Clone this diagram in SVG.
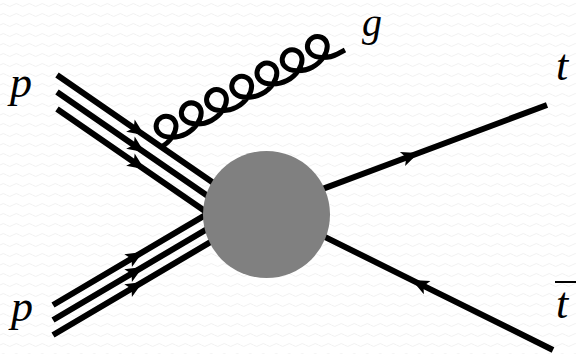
<svg xmlns="http://www.w3.org/2000/svg" width="576" height="354" viewBox="0 0 576 354">
  <defs>
    <pattern id="bg" width="13" height="10" patternUnits="userSpaceOnUse">
      <path d="M0,5 Q3.25,2 6.5,5 T13,5" fill="none" stroke="#f1f1f1" stroke-width="1"/>
    </pattern>
    <marker id="arr" markerUnits="userSpaceOnUse" markerWidth="24" markerHeight="24" viewBox="-12 -12 24 24" refX="0" refY="0" orient="auto">
      <path d="M9,0 L-8,-7.5 L-4,0 L-8,7.5 Z" fill="#000"/>
    </marker>
  </defs>
  <style>
    .f { fill: none; stroke: #000; stroke-width: 6; stroke-linecap: butt; marker-mid: url(#arr); }
    .glu { fill: none; stroke: #000; stroke-width: 5; stroke-linejoin: round; }
    .lbl { font-family: "Liberation Serif", "Times New Roman", serif; font-style: italic; fill: #000; }
  </style>
  <rect width="576" height="354" fill="#fff"/>
  <rect width="576" height="354" fill="url(#bg)"/>

  <g id="connectors">
    <path class="f" d="M57,75 L137,130.2 L215,184"/>
    <path class="f" d="M57,92 L137,147.2 L215,201"/>
    <path class="f" d="M57,109 L137,164.2 L215,218"/>
    <path class="f" d="M53,305 L135,256.6 L215,209.4"/>
    <path class="f" d="M53,320 L135,271.6 L215,224.4"/>
    <path class="f" d="M53,335 L135,286.6 L215,239.4"/>
    <path class="f" d="M300,197.4 L410,156.2 L547,105"/>
    <path class="f" d="M553,350 L420,284.1 L300,224.6"/>
    <path id="gluon" class="glu" transform="translate(161,147) rotate(-27.8)" d="M0,0
      c 11.02,0 21.25,-6.19 23.625,-13 c 2.375,-6.81 -3.111,-13 -9.375,-13 c -6.264,0 -11.75,6.19 -9.375,13 c 2.375,6.81 12.605,13 23.625,13
      c 11.02,0 21.25,-6.19 23.625,-13 c 2.375,-6.81 -3.111,-13 -9.375,-13 c -6.264,0 -11.75,6.19 -9.375,13 c 2.375,6.81 12.605,13 23.625,13
      c 11.02,0 21.25,-6.19 23.625,-13 c 2.375,-6.81 -3.111,-13 -9.375,-13 c -6.264,0 -11.75,6.19 -9.375,13 c 2.375,6.81 12.605,13 23.625,13
      c 11.02,0 21.25,-6.19 23.625,-13 c 2.375,-6.81 -3.111,-13 -9.375,-13 c -6.264,0 -11.75,6.19 -9.375,13 c 2.375,6.81 12.605,13 23.625,13
      c 11.02,0 21.25,-6.19 23.625,-13 c 2.375,-6.81 -3.111,-13 -9.375,-13 c -6.264,0 -11.75,6.19 -9.375,13 c 2.375,6.81 12.605,13 23.625,13
      c 11.02,0 21.25,-6.19 23.625,-13 c 2.375,-6.81 -3.111,-13 -9.375,-13 c -6.264,0 -11.75,6.19 -9.375,13 c 2.375,6.81 12.605,13 23.625,13
      c 11.02,0 21.25,-6.19 23.625,-13 c 2.375,-6.81 -3.111,-13 -9.375,-13 c -6.264,0 -11.75,6.19 -9.375,13 c 2.375,6.81 12.605,13 23.625,13
      L 208,0"/>
  </g>

  <g id="blob">
    <circle cx="266.5" cy="214.5" r="63.5" fill="#808080"/>
  </g>

  <g id="label-p-top"><text class="lbl" x="10" y="97" font-size="44">p</text></g>
  <g id="label-p-bottom"><text class="lbl" x="11" y="321" font-size="44">p</text></g>
  <g id="label-g"><text class="lbl" x="362" y="36" font-size="40">g</text></g>
  <g id="label-t"><text class="lbl" x="556" y="80" font-size="44">t</text></g>
  <g id="label-tbar">
    <line x1="555" y1="282" x2="577" y2="282" stroke="#000" stroke-width="2"/>
    <text class="lbl" x="556" y="318" font-size="44">t</text>
  </g>
</svg>
